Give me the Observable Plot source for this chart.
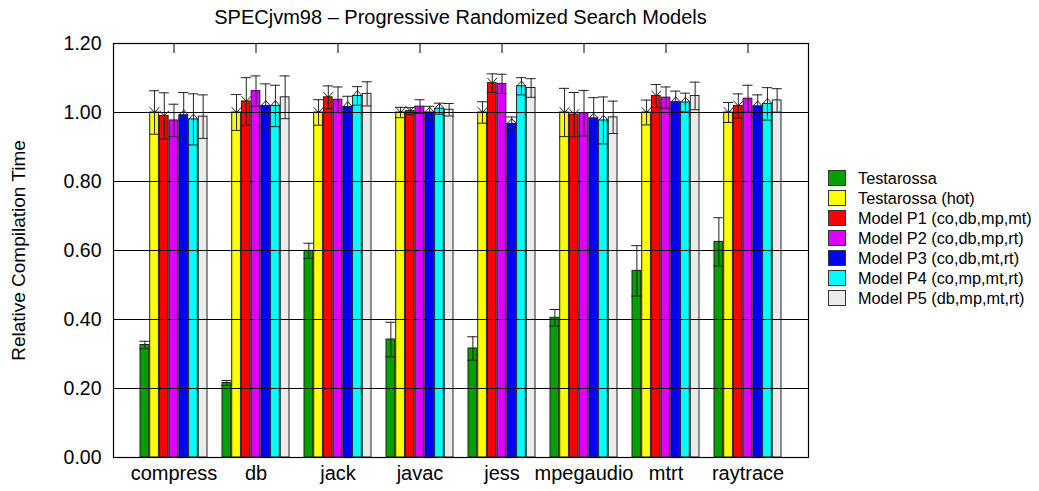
<!DOCTYPE html>
<html><head><meta charset="utf-8">
<script src="https://cdn.jsdelivr.net/npm/d3@7"></script>
<script src="https://cdn.jsdelivr.net/npm/@observablehq/plot@0.6"></script>
<style>
body{margin:0;background:#fff;font-family:"Liberation Sans",Arial,sans-serif;}
#wrap{position:relative;width:1039px;height:491px;overflow:hidden;}
#wrap svg.plotsvg{position:absolute;left:0;top:0;}
#title{position:absolute;left:113px;width:695px;top:6px;text-align:center;font-size:20px;color:#000;}
#legend{position:absolute;left:828px;top:168px;font-size:16.3px;color:#000;}
.row{display:flex;align-items:center;height:20px;}
.sw{width:16px;height:14px;border:1px solid #333;margin-right:12px;flex:none;}
</style></head>
<body>
<div id="wrap"><div id="title"></div><div id="legend"></div></div>
<script>
const title = "SPECjvm98 – Progressive Randomized Search Models";
const yLabel = "Relative Compilation Time";
const benchmarks = ["compress","db","jack","javac","jess","mpegaudio","mtrt","raytrace"];
const series = ["Testarossa","Testarossa (hot)","Model P1 (co,db,mp,mt)","Model P2 (co,db,mp,rt)","Model P3 (co,db,mt,rt)","Model P4 (co,mp,mt,rt)","Model P5 (db,mp,mt,rt)"];
const colors = ["#00a000","#ffff00","#ff0000","#dd00ff","#0000ff","#00ffff","#ebebeb"];
const yTicks = [0,0.2,0.4,0.6,0.8,1.0,1.2];

const testarossa    = [0.326,0.216,0.599,0.342,0.316,0.405,0.541,0.625];
const testarossaErr = [0.011,0.007,0.022,0.050,0.034,0.024,0.073,0.070];
const hot    = [1.000,1.000,1.000,1.000,1.000,1.000,1.000,1.000];
const hotErr = [0.063,0.052,0.037,0.015,0.031,0.070,0.036,0.029];
const p1    = [0.990,1.032,1.044,1.004,1.085,0.994,1.048,1.019];
const p1Err = [0.067,0.069,0.033,0.010,0.027,0.064,0.033,0.035];
const p2    = [0.977,1.062,1.037,1.017,1.083,0.998,1.043,1.040];
const p2Err = [0.047,0.044,0.037,0.020,0.028,0.066,0.031,0.039];
const p3    = [0.992,1.019,1.016,1.000,0.967,0.983,1.030,1.018];
const p3Err = [0.066,0.064,0.031,0.018,0.020,0.060,0.032,0.033];
const p4    = [0.980,1.019,1.048,1.011,1.076,0.977,1.029,1.025];
const p4Err = [0.074,0.060,0.027,0.016,0.025,0.068,0.027,0.047];
const p5    = [0.988,1.044,1.054,1.008,1.071,0.986,1.048,1.035];
const p5Err = [0.063,0.062,0.035,0.018,0.027,0.047,0.040,0.034];

const chevronDown = ["Testarossa (hot)","Model P1 (co,db,mp,mt)"];
const chevronUp = ["Model P3 (co,db,mt,rt)","Model P4 (co,mp,mt,rt)"];

const values = [testarossa,hot,p1,p2,p3,p4,p5];
const errors = [testarossaErr,hotErr,p1Err,p2Err,p3Err,p4Err,p5Err];

const rows = [];
series.forEach((s,i)=>benchmarks.forEach((b,j)=>rows.push({bench:b,series:s,si:i,value:values[i][j],err:errors[i][j]})));

const W=1039,H=491,ML=113,MR=231,MT=43,MB=34;
const PADI=0.178,PADO=0.29;
const n=series.length;
const step=(W-ML-MR)/(benchmarks.length-PADI+2*PADO);
const bw=step*(1-PADI);
const w=bw/n;

const vDown={draw(ctx,size){const r=Math.sqrt(size/Math.PI);ctx.moveTo(-r,-r*1.1);ctx.lineTo(0,0);ctx.lineTo(r,-r*1.1);}};
const vUp={draw(ctx,size){const r=Math.sqrt(size/Math.PI);ctx.moveTo(-r,0);ctx.lineTo(0,-r*1.1);ctx.lineTo(r,0);}};

const marks=[];
series.forEach((s,i)=>{
  const d=rows.filter(r=>r.si===i);
  marks.push(Plot.barY(d,{x:"bench",y:"value",fill:"series",stroke:"#222",strokeWidth:1,insetLeft:i*w,insetRight:(n-1-i)*w}));
});
marks.push(Plot.ruleY(yTicks,{stroke:"#000",strokeWidth:1}));
series.forEach((s,i)=>{
  const d=rows.filter(r=>r.si===i);
  const off=(i+0.5)*w-bw/2;
  marks.push(Plot.ruleX(d,{x:"bench",y1:r=>r.value-r.err,y2:r=>r.value+r.err,dx:off,stroke:"#222",strokeWidth:1}));
  marks.push(Plot.tickY(d,{x:"bench",y:r=>r.value+r.err,insetLeft:i*w-0.7,insetRight:(n-1-i)*w-0.7,stroke:"#222",strokeWidth:1}));
  marks.push(Plot.tickY(d,{x:"bench",y:r=>r.value-r.err,insetLeft:i*w-0.7,insetRight:(n-1-i)*w-0.7,stroke:"#222",strokeWidth:1}));
  if(chevronDown.includes(s)) marks.push(Plot.dot(d,{x:"bench",y:"value",dx:off,r:4.8,symbol:vDown,fill:"none",stroke:"#222",strokeWidth:1}));
  if(chevronUp.includes(s)) marks.push(Plot.dot(d,{x:"bench",y:"value",dx:off,r:4.8,symbol:vUp,fill:"none",stroke:"#222",strokeWidth:1}));
});
marks.push(Plot.tickX(benchmarks,{x:d=>d,insetBottom:(H-MT-MB)-10,stroke:"#000",strokeWidth:1}));
marks.push(Plot.frame({stroke:"#000",strokeWidth:1.2}));
marks.push(Plot.axisY({ticks:yTicks,tickFormat:d3.format(".2f"),tickSize:0,tickPadding:12,fontSize:19.5,label:null}));
marks.push(Plot.axisY({ticks:[],tickSize:0,label:yLabel,labelAnchor:"center",labelOffset:102,labelArrow:"none",fontSize:19}));
marks.push(Plot.axisX({tickSize:0,tickPadding:8,fontSize:20,label:null}));

const chart=Plot.plot({
  width:W,height:H,marginLeft:ML,marginRight:MR,marginTop:MT,marginBottom:MB,
  style:{fontFamily:"Liberation Sans, Arial, sans-serif",fontSize:"19px",color:"#000",background:"transparent"},
  x:{type:"band",domain:benchmarks,paddingInner:PADI,paddingOuter:PADO,align:0.5},
  y:{domain:[0,1.2]},
  color:{domain:series,range:colors},
  marks
});
chart.classList.add("plotsvg");
const wrap=document.getElementById("wrap");
wrap.insertBefore(chart,wrap.firstChild);
document.getElementById("title").textContent=title;
const leg=document.getElementById("legend");
series.forEach((s,i)=>{
  const row=document.createElement("div");row.className="row";
  const sw=document.createElement("div");sw.className="sw";sw.style.background=colors[i];
  const t=document.createElement("span");t.textContent=s;
  row.appendChild(sw);row.appendChild(t);leg.appendChild(row);
});
</script>
</body></html>
